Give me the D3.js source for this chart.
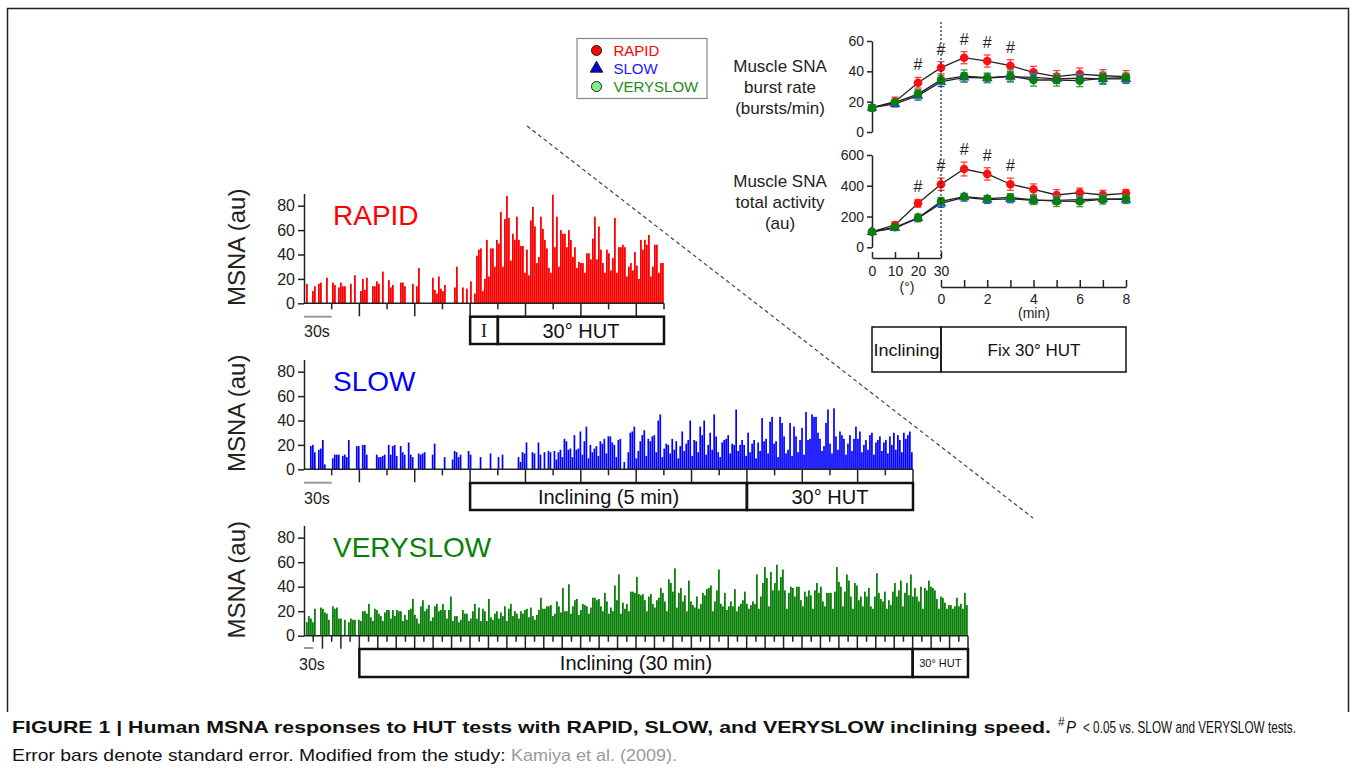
<!DOCTYPE html>
<html>
<head>
<meta charset="utf-8">
<script src="https://cdn.jsdelivr.net/npm/d3@7"></script>
<style>
body{margin:0;background:#fff;}
svg{font-family:Arial,"Liberation Sans",Helvetica,sans-serif;}
</style>
</head>
<body>
<svg id="fig" width="1356" height="771"></svg>
<script>
// ---- raw MSNA traces (burst amplitude, au, one value per time bin) ----
var rapidBursts = [
 0,16,0,0,10,14,0,16,17,0,
 0,21,0,0,17,15,0,13,17,14,
 14,0,0,16,0,23,0,0,10,20,
 11,21,0,0,14,14,18,16,0,26,
 0,0,19,13,15,0,0,0,17,17,
 14,0,0,0,16,0,14,29,0,0,
 0,0,0,0,21,11,8,22,12,10,
 15,0,0,0,0,13,30,0,0,13,
 0,12,0,18,0,8,39,44,45,10,
 20,52,22,45,45,30,52,49,75,30,
 69,88,70,35,57,52,71,52,47,47,
 25,44,23,68,79,63,33,38,71,61,
 52,45,29,25,89,46,71,30,60,57,
 57,46,60,52,38,46,29,34,33,33,
 25,41,41,36,53,71,36,63,44,33,
 25,44,41,27,37,70,25,46,46,48,
 46,22,30,33,27,42,31,20,52,44,
 52,48,56,22,30,48,48,25,33,33];
var slowBursts = [
 0,0,0,19,20,14,0,16,17,24,
 4,0,0,0,9,12,12,12,0,11,
 12,10,24,0,0,0,19,19,0,20,
 20,12,0,0,0,0,12,10,10,11,
 12,0,20,12,19,20,11,0,19,14,
 12,0,22,12,10,0,0,13,12,13,
 14,0,0,0,12,21,0,0,0,0,
 10,0,0,0,8,15,14,10,12,0,
 0,0,15,12,0,0,0,0,10,0,
 0,0,0,13,0,0,0,10,0,12,
 0,0,0,0,0,0,0,10,6,14,
 13,22,0,0,14,13,0,22,12,0,
 14,0,15,14,0,15,8,14,16,10,
 25,23,16,17,10,28,16,17,31,12,
 23,35,9,20,14,17,19,11,23,21,
 25,13,27,27,22,20,10,24,25,0,
 6,0,14,30,31,35,9,15,23,28,
 32,11,25,23,27,28,14,40,45,10,
 17,21,20,13,25,16,23,9,19,31,
 15,21,24,40,11,24,23,14,35,28,
 40,12,20,30,16,45,27,14,10,22,
 24,25,28,13,21,20,49,15,20,24,
 20,11,30,14,21,24,9,22,15,42,
 23,25,13,39,43,21,23,10,43,38,
 27,13,16,38,11,35,27,14,24,34,
 12,47,24,25,45,43,43,30,25,15,
 19,38,49,21,13,50,27,16,31,28,
 25,12,21,28,15,25,35,25,31,14,
 20,24,16,28,30,12,22,24,27,15,
 22,24,13,27,20,30,16,28,24,14,
 30,25,28,31,14];
var verySlowBursts = [
 0,11,16,14,11,22,0,0,23,22,
 19,18,13,0,24,22,23,14,14,0,
 13,0,11,14,13,13,0,13,12,20,
 20,18,26,15,12,22,21,18,16,12,
 19,21,21,14,21,16,21,20,20,12,
 17,13,21,22,30,17,14,10,24,29,
 20,22,25,12,15,24,26,20,21,26,
 21,14,21,32,12,16,16,11,13,21,
 18,18,12,14,20,26,14,23,12,22,
 20,12,30,15,13,18,20,14,19,16,
 24,12,22,26,16,20,18,14,20,18,
 21,22,15,23,16,13,17,21,31,22,
 22,24,24,25,16,18,28,24,19,39,
 20,20,42,18,24,29,30,17,21,26,
 25,24,18,23,31,31,29,30,24,20,
 35,28,18,23,20,41,29,50,18,27,
 22,26,20,36,36,35,48,34,33,34,
 29,20,32,34,26,23,29,31,39,35,
 28,20,46,43,36,55,23,35,39,28,
 33,20,45,28,25,23,32,22,26,35,
 33,38,39,41,20,28,37,54,26,24,
 35,21,24,28,24,38,20,24,26,29,
 36,26,22,25,28,26,50,22,32,43,
 56,47,24,52,37,43,58,37,48,54,
 37,22,35,40,39,32,40,40,29,24,
 36,32,37,33,22,37,43,35,40,28,
 24,35,35,35,22,36,56,44,40,24,
 36,50,45,32,22,43,41,29,32,24,
 36,32,39,24,22,32,51,35,30,28,
 36,22,29,25,36,43,32,37,45,24,
 35,43,33,50,32,39,32,28,40,22,
 39,37,45,40,39,37,30,22,32,31,
 27,22,25,25,22,24,31,24,26,22,
 35,25];
var msnaTicks = [0,20,40,60,80];

// ---- group means (burst rate, bursts/min ; total activity, au) ----
var inclineDeg = [0,10,20,30];
var fixMin = [1,2,3,4,5,6,7,8];
var burstRapid = [16,20,32.5,42.4,49,46.8,43.7,39.3,36.5,38.2,37.1,36.5];
var burstSlow = [16,18.5,24,33,36,35.5,36.5,36,35,35.5,35,35];
var burstVerySlow = [16,19.6,25,34.3,36.9,35.8,36.9,34.3,34.3,33.9,35.4,35.8];
var burstRapidSE = [2,3,3.5,4,4,4,4,4,4,4,4,4];
var burstSlowSE = [2,2,3,3,3,3,3,3,3,3,3,3];
var burstVerySlowSE = [2,2,3,3,4,3,4,4,4,4,4,3];
var totalRapid = [101,145,286,410,509,477,410,377,340,355,340,351];
var totalSlow = [100,125,190,285,325,310,315,305,305,310,315,310];
var totalVerySlow = [100,130,191,299,329,316,324,308,300,299,311,316];
var totalRapidSE = [10,20,25,40,45,40,40,35,35,30,30,25];
var totalSlowSE = [10,15,20,25,25,25,25,25,25,25,25,25];
var totalVerySlowSE = [10,15,25,25,20,20,25,30,35,35,30,25];
var sigIndex = [2,3,4,5,6];
var burstTicks = [0,20,40,60];
var totalTicks = [0,200,400,600];

var svg = d3.select("#fig");

var drawFrame = function()
{
    svg.append("path")
        .attr("d","M7.5,712 V8.5 H1348.5 V712")
        .attr("fill","none")
        .attr("stroke","#222")
        .attr("stroke-width",1.5);
    svg.append("line")
        .attr("x1",527).attr("y1",126)
        .attr("x2",1033).attr("y2",518)
        .attr("stroke","#444")
        .attr("stroke-width",1.2)
        .attr("stroke-dasharray","4,3");
}

var drawTrace = function(cfg)
{
    var total = d3.sum(cfg.segments,function(s){return s.sec;});
    var x = d3.scaleLinear().domain([0,total]).range([cfg.left,cfg.right]);
    var y = d3.scaleLinear().domain([0,90]).range([cfg.base,cfg.base-cfg.h80*90/80]);
    var binSec = total/cfg.bursts.length;
    var g = svg.append("g");

    g.selectAll("rect")
        .data(cfg.bursts)
        .enter()
        .append("rect")
        .attr("x",function(d,i){return x(i*binSec);})
        .attr("width",cfg.barW)
        .attr("y",function(d){return y(d);})
        .attr("height",function(d){return cfg.base-y(d);})
        .attr("fill",cfg.color);

    var yAxis = d3.axisLeft(y).tickValues(msnaTicks).tickSize(6).tickSizeOuter(0).tickPadding(3);
    var ax = g.append("g")
        .attr("transform","translate("+cfg.left+",0)")
        .call(yAxis);
    ax.selectAll("text").attr("font-size",16).attr("fill","#222").attr("font-family","Arial, sans-serif");
    ax.selectAll("line,path").attr("stroke","#222").attr("stroke-width",1.5);

    g.append("line")
        .attr("x1",cfg.left).attr("x2",cfg.right)
        .attr("y1",cfg.base).attr("y2",cfg.base)
        .attr("stroke","#222").attr("stroke-width",1.5);

    g.selectAll("line.tick30")
        .data(d3.range(30,total+1,30))
        .enter()
        .append("line")
        .attr("x1",function(t){return x(t);})
        .attr("x2",function(t){return x(t);})
        .attr("y1",cfg.base)
        .attr("y2",function(t){return cfg.base+(t%60==0?13:6);})
        .attr("stroke","#222").attr("stroke-width",1.5);

    g.append("line")
        .attr("x1",x(0)).attr("x2",x(30))
        .attr("y1",cfg.barY).attr("y2",cfg.barY)
        .attr("stroke","#999").attr("stroke-width",2);
    g.append("text")
        .text("30s")
        .attr("x",cfg.scaleX)
        .attr("y",cfg.scaleY)
        .attr("font-size",16).attr("fill","#222");

    g.append("text")
        .text("MSNA (au)")
        .attr("transform","translate(245,"+(cfg.base-56)+") rotate(-90)")
        .attr("text-anchor","middle")
        .attr("font-size",24).attr("fill","#222");

    g.append("text")
        .text(cfg.name)
        .attr("x",333)
        .attr("y",cfg.titleY)
        .attr("font-size",28)
        .attr("fill",cfg.color);

    // protocol box
    var start = cfg.segments[0].sec;
    var pos = start;
    var parts = cfg.segments.slice(1).map(function(s)
    {
        var p = {x0:x(pos),x1:x(pos+s.sec),label:s.label,size:s.size,serif:s.serif};
        pos += s.sec;
        return p;
    });
    g.selectAll("rect.box")
        .data(parts)
        .enter()
        .append("rect")
        .attr("x",function(p){return p.x0;})
        .attr("width",function(p){return p.x1-p.x0;})
        .attr("y",cfg.boxTop)
        .attr("height",cfg.boxBottom-cfg.boxTop)
        .attr("fill","none")
        .attr("stroke","#111")
        .attr("stroke-width",2.5);
    g.selectAll("text.box")
        .data(parts)
        .enter()
        .append("text")
        .text(function(p){return p.label;})
        .attr("x",function(p){return (p.x0+p.x1)/2;})
        .attr("y",(cfg.boxTop+cfg.boxBottom)/2)
        .attr("dy","0.36em")
        .attr("text-anchor","middle")
        .attr("font-family",function(p){return p.serif?"'Liberation Serif', serif":null;})
        .attr("font-size",function(p){return p.size;})
        .attr("fill","#111");
}

var drawMeanPanel = function(cfg)
{
    var degScale = d3.scaleLinear().domain([0,30]).range([872,941]);
    var minScale = d3.scaleLinear().domain([0,8]).range([941,1126]);
    var xPos = function(i)
    {
        return i<inclineDeg.length ? degScale(inclineDeg[i]) : minScale(fixMin[i-inclineDeg.length]);
    }
    var y = d3.scaleLinear().domain(cfg.domain).range([cfg.bottom,cfg.top]);
    var g = svg.append("g");

    var yAxis = d3.axisLeft(y).tickValues(cfg.ticks).tickSize(5).tickSizeOuter(0).tickPadding(3);
    var ax = g.append("g").attr("transform","translate(872,0)").call(yAxis);
    ax.selectAll("text").attr("font-size",14).attr("fill","#222").attr("font-family","Arial, sans-serif");
    ax.selectAll("line,path").attr("stroke","#222").attr("stroke-width",1.5);

    var line = d3.line()
        .x(function(d,i){return xPos(i);})
        .y(function(d){return y(d);});

    cfg.series.forEach(function(s)
    {
        g.append("path")
            .datum(s.values)
            .attr("d",line)
            .attr("fill","none")
            .attr("stroke","#222")
            .attr("stroke-width",1.3);
    });
    cfg.series.forEach(function(s)
    {
        var eb = g.append("g");
        s.values.forEach(function(v,i)
        {
            var cx = xPos(i);
            eb.append("line")
                .attr("x1",cx).attr("x2",cx)
                .attr("y1",y(v-s.se[i])).attr("y2",y(v+s.se[i]))
                .attr("stroke",s.errColor).attr("stroke-width",1.3);
            [v-s.se[i],v+s.se[i]].forEach(function(e)
            {
                eb.append("line")
                    .attr("x1",cx-3.5).attr("x2",cx+3.5)
                    .attr("y1",y(e)).attr("y2",y(e))
                    .attr("stroke",s.errColor).attr("stroke-width",1.3);
            });
        });
        if(s.shape=="triangle")
        {
            g.selectAll(null)
                .data(s.values)
                .enter()
                .append("path")
                .attr("d",d3.symbol(d3.symbolTriangle,48))
                .attr("transform",function(d,i){return "translate("+xPos(i)+","+y(d)+")";})
                .attr("fill",s.color);
        }
        else
        {
            g.selectAll(null)
                .data(s.values)
                .enter()
                .append("circle")
                .attr("cx",function(d,i){return xPos(i);})
                .attr("cy",function(d){return y(d);})
                .attr("r",4.3)
                .attr("fill",s.color);
        }
    });

    var red = cfg.series[0];
    g.selectAll("text.sig")
        .data(sigIndex)
        .enter()
        .append("text")
        .text("#")
        .attr("x",function(i){return xPos(i);})
        .attr("y",function(i){return y(red.values[i]+red.se[i])-7;})
        .attr("text-anchor","middle")
        .attr("font-size",16)
        .attr("fill","#222");

    g.selectAll("text.ylab")
        .data(cfg.label)
        .enter()
        .append("text")
        .text(function(t){return t;})
        .attr("x",780)
        .attr("y",function(t,i){return cfg.labelY+i*21;})
        .attr("text-anchor","middle")
        .attr("font-size",17)
        .attr("fill","#222");
}

var drawTimeAxes = function()
{
    var degScale = d3.scaleLinear().domain([0,30]).range([872,941]);
    var minScale = d3.scaleLinear().domain([0,8]).range([941,1126]);

    var da = svg.append("g").attr("transform","translate(0,258)")
        .call(d3.axisBottom(degScale).tickValues(inclineDeg).tickSize(-6).tickSizeOuter(0).tickPadding(8));
    var ma = svg.append("g").attr("transform","translate(0,287)")
        .call(d3.axisBottom(minScale).tickValues(d3.range(0,9)).tickSize(-7).tickSizeOuter(0).tickPadding(7)
            .tickFormat(function(d){return d%2==0?d:"";}));
    [da,ma].forEach(function(a)
    {
        a.selectAll("text").attr("font-size",14).attr("fill","#222").attr("font-family","Arial, sans-serif");
        a.selectAll("line,path").attr("stroke","#222").attr("stroke-width",1.5);
    });
    svg.append("text").text("(°)").attr("x",907).attr("y",292)
        .attr("text-anchor","middle").attr("font-size",14).attr("fill","#222");
    svg.append("text").text("(min)").attr("x",1034).attr("y",318)
        .attr("text-anchor","middle").attr("font-size",14).attr("fill","#222");

    svg.append("line")
        .attr("x1",941).attr("x2",941).attr("y1",22).attr("y2",258)
        .attr("stroke","#222").attr("stroke-width",1.2).attr("stroke-dasharray","2,2");

    var box = svg.append("g");
    box.append("rect").attr("x",872).attr("y",327).attr("width",69).attr("height",45)
        .attr("fill","none").attr("stroke","#111").attr("stroke-width",1.5);
    box.append("rect").attr("x",941).attr("y",327).attr("width",185).attr("height",45)
        .attr("fill","none").attr("stroke","#111").attr("stroke-width",1.5);
    box.append("text").text("Inclining").attr("x",906.5).attr("y",356)
        .attr("text-anchor","middle").attr("font-size",17).attr("fill","#111")
        .attr("textLength",66).attr("lengthAdjust","spacingAndGlyphs");
    box.append("text").text("Fix 30° HUT").attr("x",1034).attr("y",356)
        .attr("text-anchor","middle").attr("font-size",17).attr("fill","#111");
}

var drawLegend = function()
{
    var lg = svg.append("g");
    lg.append("rect").attr("x",577).attr("y",38.5).attr("width",130).attr("height",60)
        .attr("fill","#fff").attr("stroke","#888").attr("stroke-width",1.2);
    var items = [
        {name:"RAPID",color:"#ff0000",fill:"#ff0000",shape:"circle"},
        {name:"SLOW",color:"#1a1aff",fill:"#0000cc",shape:"triangle"},
        {name:"VERYSLOW",color:"#1b8a1b",fill:"#80ee80",shape:"circle"}
    ];
    var entries = lg.selectAll("g")
        .data(items)
        .enter()
        .append("g")
        .attr("transform",function(d,i){return "translate(596.5,"+(50.5+i*18)+")";});
    entries.append("path")
        .attr("d",function(d)
        {
            return d3.symbol(d.shape=="circle"?d3.symbolCircle:d3.symbolTriangle, d.shape=="circle"?80:70)();
        })
        .attr("fill",function(d){return d.fill;})
        .attr("stroke","#222").attr("stroke-width",1);
    entries.append("text")
        .text(function(d){return d.name;})
        .attr("x",17).attr("y",5.5)
        .attr("font-size",15)
        .attr("fill",function(d){return d.color;});
}

// squeeze a caption piece horizontally so it spans the width it has in the figure
var fitText = function(sel,x,y,width)
{
    var w = sel.node().getComputedTextLength();
    sel.attr("transform","translate("+x+","+y+") scale("+(width/w)+",1)");
}

var drawCaption = function()
{
    var cap = svg.append("g").attr("font-size",17);
    var t1 = cap.append("text")
        .text("FIGURE 1 | Human MSNA responses to HUT tests with RAPID, SLOW, and VERYSLOW inclining speed.")
        .attr("font-weight","bold").attr("fill","#111");
    fitText(t1,12,733,1040);
    cap.append("text").text("#").attr("x",1058).attr("y",726).attr("font-size",12).attr("fill","#111");
    var tp = cap.append("text").text("P").attr("font-style","italic").attr("fill","#111");
    fitText(tp,1066,733,10);
    var t2 = cap.append("text")
        .text("< 0.05 vs. SLOW and VERYSLOW tests.")
        .attr("fill","#111");
    fitText(t2,1083,733,213);
    var t3 = cap.append("text")
        .text("Error bars denote standard error. Modified from the study:")
        .attr("fill","#111");
    fitText(t3,12,761,494);
    var t4 = cap.append("text")
        .text("Kamiya et al. (2009).")
        .attr("fill","#999");
    fitText(t4,511,761,166);
}

drawFrame();

drawTrace({name:"RAPID",bursts:rapidBursts,color:"#ff0000",barW:1.8,
    left:304,right:664,base:303.3,h80:97.6,titleY:225,
    barY:316.7,scaleX:304,scaleY:337,boxTop:316.7,boxBottom:344,
    segments:[{sec:180},{sec:30,label:"I",size:18,serif:true},{sec:180,label:"30° HUT",size:20}]});
drawTrace({name:"SLOW",bursts:slowBursts,color:"#0000ff",barW:1.7,
    left:304,right:913,base:469.3,h80:97.6,titleY:391,
    barY:482.7,scaleX:304,scaleY:504,boxTop:483,boxBottom:510,
    segments:[{sec:180},{sec:300,label:"Inclining (5 min)",size:20},{sec:180,label:"30° HUT",size:20}]});
drawTrace({name:"VERYSLOW",bursts:verySlowBursts,color:"#0a800a",barW:1.8,
    left:304,right:968,base:635.7,h80:98,titleY:557,
    barY:648,scaleX:299,scaleY:670,boxTop:649,boxBottom:677,
    segments:[{sec:180},{sec:1800,label:"Inclining (30 min)",size:20},{sec:180,label:"30° HUT",size:11}]});

drawMeanPanel({domain:[0,60],top:41,bottom:132,ticks:burstTicks,
    label:["Muscle SNA","burst rate","(bursts/min)"],labelY:72,
    series:[
        {values:burstRapid,se:burstRapidSE,color:"#ff1010",errColor:"#ff4040",shape:"circle"},
        {values:burstSlow,se:burstSlowSE,color:"#1030ff",errColor:"#3050ff",shape:"triangle"},
        {values:burstVerySlow,se:burstVerySlowSE,color:"#0a800a",errColor:"#30a030",shape:"circle"}
    ]});
drawMeanPanel({domain:[0,600],top:155,bottom:247.3,ticks:totalTicks,
    label:["Muscle SNA","total activity","(au)"],labelY:187,
    series:[
        {values:totalRapid,se:totalRapidSE,color:"#ff1010",errColor:"#ff4040",shape:"circle"},
        {values:totalSlow,se:totalSlowSE,color:"#1030ff",errColor:"#3050ff",shape:"triangle"},
        {values:totalVerySlow,se:totalVerySlowSE,color:"#0a800a",errColor:"#30a030",shape:"circle"}
    ]});
drawTimeAxes();
drawLegend();
drawCaption();
</script>
</body>
</html>
